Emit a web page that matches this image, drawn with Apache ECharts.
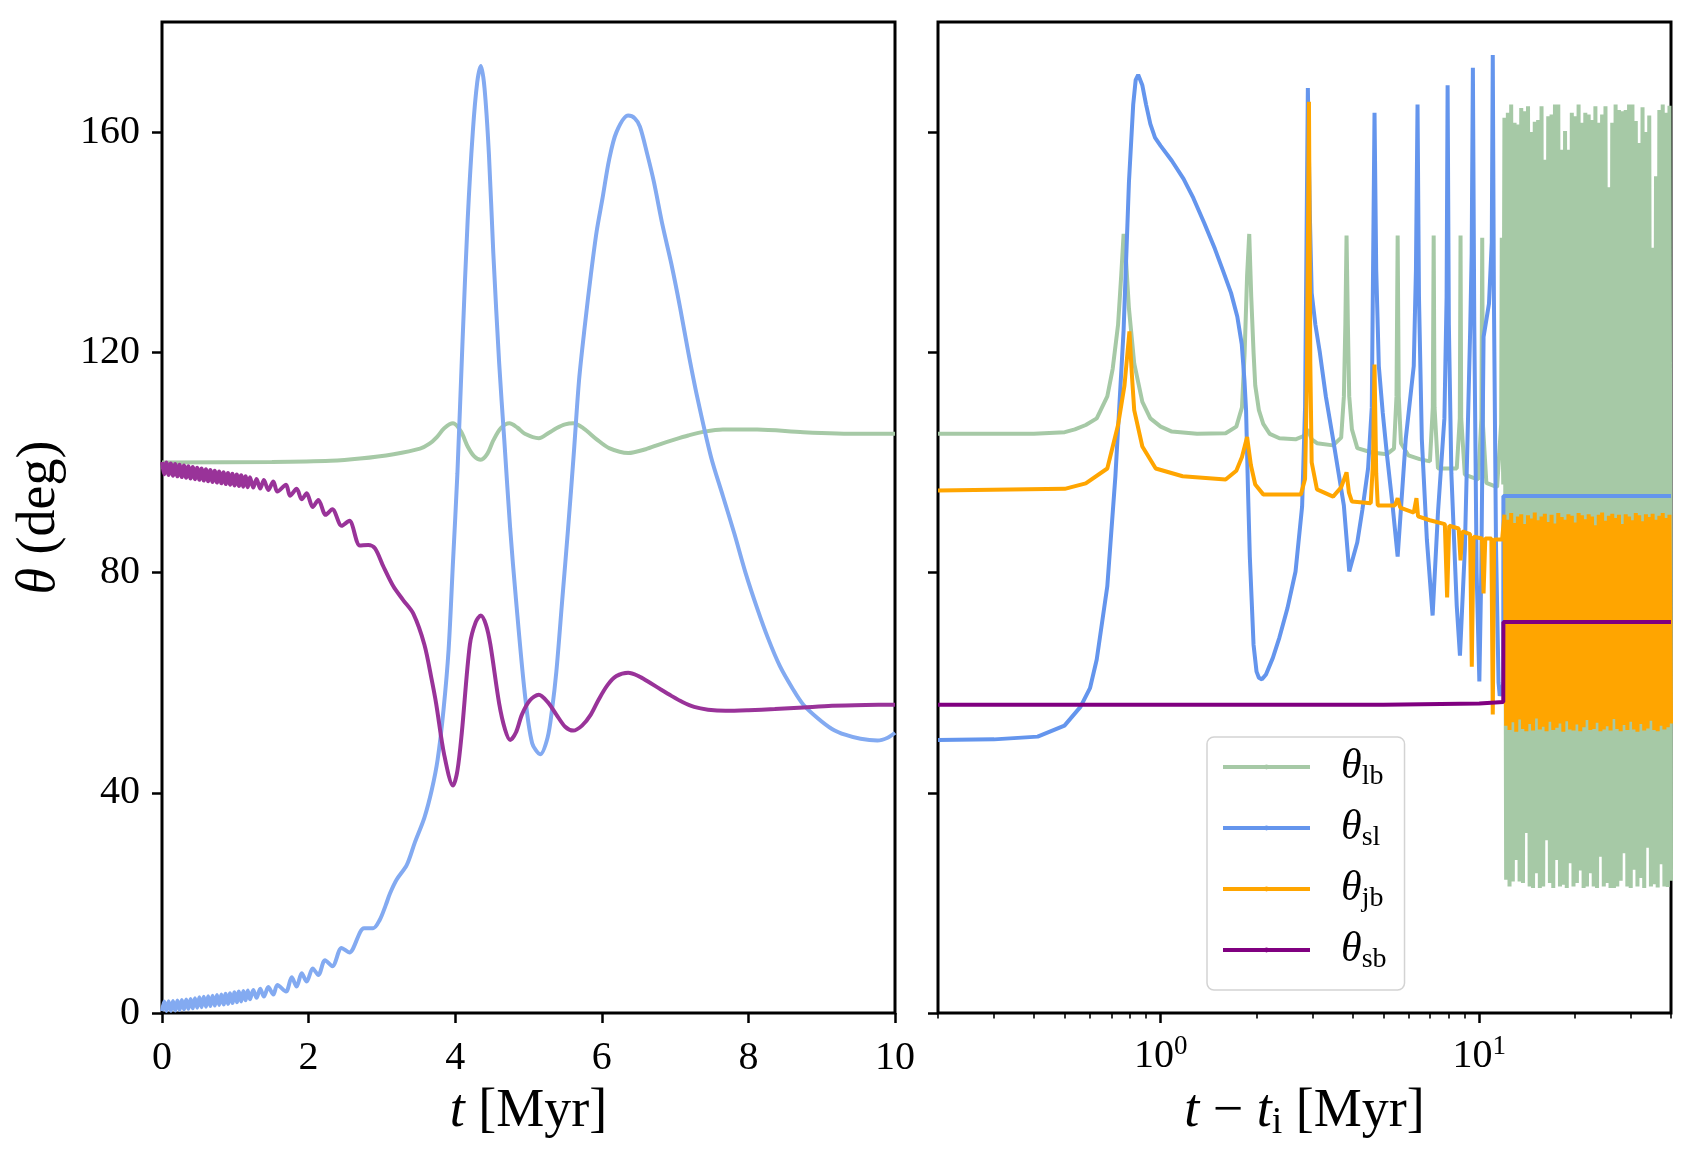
<!DOCTYPE html>
<html>
<head>
<meta charset="utf-8">
<title>theta evolution</title>
<script src="https://cdn.jsdelivr.net/npm/echarts@6/dist/echarts.min.js"></script>
<style>
  html, body { margin: 0; padding: 0; background: #fff; }
  #main { width: 1693px; height: 1151px; }
</style>
</head>
<body>
<div id="main"></div>
<script>
// ---- left panel: t [Myr] vs angle [deg] ----
const lbLeft = [[0,100.0],[1.5,100.1],[2.3,100.3],[2.7,100.7],[3.16,101.5],[3.52,102.5],[3.65,103.4],[3.75,104.6],[3.85,106.2],[3.97,107.1],[4.08,105.6],[4.17,102.9],[4.26,101.1],[4.35,100.5],[4.44,101.6],[4.52,104.0],[4.62,106.2],[4.74,107.1],[4.85,106.3],[4.95,105.2],[5.14,104.4],[5.28,105.4],[5.38,106.2],[5.5,106.9],[5.61,107.1],[5.75,106.2],[5.93,104.2],[6.1,102.6],[6.36,101.7],[6.6,102.4],[6.79,103.3],[7.0,104.2],[7.18,104.9],[7.4,105.6],[7.65,106.0],[8.12,106.0],[8.75,105.5],[9.53,105.2],[10,105.2]];

const slLeft = [[0,0.35],[0.03,2.1],[0.06,0.37],[0.09,2.15],[0.12,0.4],[0.15,2.2],[0.18,0.45],[0.21,2.25],[0.24,0.55],[0.27,2.35],[0.3,0.65],[0.33,2.45],[0.36,0.75],[0.39,2.55],[0.42,0.85],[0.45,2.7],[0.48,0.95],[0.51,2.85],[0.54,1.05],[0.57,2.95],[0.6,1.15],[0.63,3.05],[0.66,1.25],[0.69,3.15],[0.72,1.35],[0.75,3.25],[0.78,1.45],[0.81,3.35],[0.84,1.55],[0.87,3.5],[0.9,1.65],[0.93,3.6],[0.96,1.8],[0.99,3.75],[1.02,1.95],[1.05,3.9],[1.08,2.1],[1.11,4.0],[1.14,2.3],[1.17,4.1],[1.2,2.5],
  [1.245,4.2],[1.29,2.75],[1.34,4.4],[1.39,3.0],[1.45,4.7],[1.519,3.35],[1.574,5.1],[1.692,3.9],[1.77,6.5],[1.837,4.8],[1.906,7.2],[1.974,5.7],[2.056,8.1],[2.133,6.9],[2.224,9.6],[2.324,8.5],[2.45,11.8],[2.556,11.0],[2.756,15.4],[2.88,15.4],[2.97,16.9],[3.05,19.5],[3.11,21.7],[3.2,24.2],[3.34,26.9],[3.45,31.0],[3.58,35.5],[3.68,40.5],[3.76,46],[3.84,55],[3.91,66],[3.97,82],[4.03,98],[4.1,122],[4.17,144],[4.24,160],[4.3,169],[4.35,172],[4.4,168],[4.46,156],[4.52,138],[4.6,118],[4.67,104],[4.75,88],[4.83,75],[4.95,58],[5.05,49],[5.16,47],[5.26,50],[5.32,55],[5.38,62],[5.46,75],[5.54,88],[5.62,102],[5.69,115],[5.77,125],[5.85,134],[5.93,142],[6.01,148],[6.1,155],[6.2,160],[6.36,163],[6.45,162.5],[6.52,161],[6.62,156],[6.71,151],[6.83,143],[6.95,136],[7.07,128],[7.18,120],[7.3,112],[7.49,101],[7.65,94],[7.81,87],[7.96,80],[8.12,73.5],[8.27,68],[8.43,63],[8.6,59],[8.75,56],[8.95,53.5],[9.14,51.6],[9.33,50.5],[9.53,49.8],[9.76,49.5],[9.9,50],[10,50.9]];

const sbLeft = [[0,100.1],[0.03,97.85],[0.06,99.97],[0.09,97.72],[0.12,99.83],[0.15,97.6],[0.18,99.7],[0.21,97.47],[0.24,99.56],[0.27,97.34],[0.3,99.43],[0.33,97.22],[0.36,99.29],[0.39,97.09],[0.42,99.16],[0.45,96.97],[0.48,99.02],[0.51,96.84],[0.54,98.89],[0.57,96.71],[0.6,98.75],[0.63,96.59],[0.66,98.62],[0.69,96.46],[0.72,98.48],[0.75,96.34],[0.78,98.35],[0.81,96.21],[0.84,98.21],[0.87,96.08],[0.9,98.08],[0.93,95.96],[0.96,97.94],[0.99,95.83],[1.02,97.81],[1.05,95.71],[1.08,97.67],[1.11,95.58],[1.14,97.5],[1.17,95.5],[1.2,97.3],
  [1.245,95.45],[1.29,97.0],[1.34,95.25],[1.39,96.8],[1.45,95.0],[1.519,96.55],[1.574,94.7],[1.692,95.95],[1.746,93.95],[1.837,95.2],[1.906,93.3],[1.974,94.4],[2.056,91.9],[2.133,93.2],[2.233,90.5],[2.324,91.5],[2.451,88.5],[2.556,89.4],[2.70,84.9],[2.815,85.0],[2.906,84.4],[3.02,81.1],[3.156,77.5],[3.29,75.0],[3.43,72.5],[3.58,66.9],[3.68,60.5],[3.74,56.2],[3.85,46.9],[3.97,41.3],[4.03,44],[4.09,50.9],[4.2,66.9],[4.28,71],[4.35,72.2],[4.42,70.5],[4.48,66.9],[4.6,56.2],[4.68,51.5],[4.75,49.6],[4.83,51],[4.91,54.2],[5.02,56.8],[5.14,57.8],[5.26,56.5],[5.38,54.2],[5.5,52],[5.61,51.3],[5.73,52.2],[5.85,54.2],[5.96,57],[6.08,59.6],[6.2,61.2],[6.36,61.8],[6.5,61.2],[6.63,60.2],[6.8,58.8],[6.95,57.6],[7.1,56.5],[7.26,55.6],[7.45,55.1],[7.69,54.9],[8.0,55.0],[8.36,55.2],[8.75,55.5],[9.14,55.8],[9.6,55.95],[10,56]];

// ---- right panel: t - t_i [Myr] (log) ----
const lbRight = [[0.2,105.2],[0.4,105.2],[0.5,105.5],[0.538,106.0],[0.582,106.8],[0.63,108],[0.68,112],[0.707,117],[0.735,125],[0.752,134],[0.765,141.5],[0.78,136],[0.795,128],[0.826,118],[0.876,111],[0.928,108],[1.0,106.5],[1.084,105.6],[1.3,105.2],[1.6,105.3],[1.728,106.5],[1.8,110],[1.835,120],[1.868,134],[1.897,141.5],[1.925,130],[1.957,120],[1.981,114],[2.034,109.5],[2.099,107],[2.2,105.2],[2.359,104.4],[2.651,104.2],[2.81,104.8],[2.898,106],[2.98,104.2],[3.095,103.5],[3.478,103.1],[3.687,104.5],[3.76,112],[3.8,125],[3.833,141.2],[3.87,125],[3.908,112],[3.985,106],[4.143,102.6],[4.6,101.8],[5.131,101.5],[5.4,102.5],[5.5,112],[5.546,141.2],[5.59,112],[5.68,103.5],[5.993,101.3],[6.5,100.6],[7.003,100.2],[7.15,110],[7.195,141.2],[7.24,110],[7.422,98.9],[8.502,98.9],[8.69,108],[8.737,141.2],[8.78,108],[9.013,97.8],[9.93,96.9],[10.16,108],[10.22,140.8],[10.27,107],[10.53,96.3],[11.38,95.5],[11.72,107],[11.77,140.8],[11.82,107],[11.9,96]];

const slRight = [[0.2,49.6],[0.3,49.7],[0.411,50.2],[0.499,52.2],[0.56,55.6],[0.6,59],[0.63,64.2],[0.68,77.5],[0.721,97.5],[0.765,124],[0.795,150.8],[0.82,165],[0.835,169.5],[0.85,170.4],[0.876,168.5],[0.9,165],[0.928,161.5],[0.96,159],[1.0,157.5],[1.084,154.8],[1.18,151.5],[1.267,148],[1.37,143.5],[1.48,138.8],[1.57,134.8],[1.663,130.8],[1.74,126.5],[1.797,121.5],[1.832,115],[1.854,109.5],[1.88,95],[1.905,82.9],[1.957,66.9],[2.0,62],[2.034,60.9],[2.08,60.6],[2.141,61.5],[2.25,64.5],[2.359,68.2],[2.5,73.5],[2.651,80.2],[2.78,92],[2.84,110],[2.898,168],[2.94,145],[2.979,130.8],[3.06,125],[3.156,120.2],[3.3,112],[3.478,104.2],[3.62,98],[3.759,92.2],[3.908,80.2],[4.143,85.5],[4.3,91.5],[4.478,98.9],[4.6,110],[4.692,163.5],[4.75,135],[4.84,117.5],[4.98,109],[5.131,101.5],[5.35,92],[5.546,82.9],[5.879,104.2],[6.23,117.5],[6.33,135],[6.403,165],[6.47,130],[6.605,104.2],[6.85,86],[7.14,72.2],[7.422,90.9],[7.775,108],[7.9,130],[7.958,168.5],[8.03,125],[8.177,98],[8.5,74],[8.70,64.9],[9.013,84.2],[9.369,124.2],[9.47,138],[9.553,171.7],[9.65,125],[9.815,80],[10.01,60.2],[10.15,80],[10.32,122.8],[10.73,128.8],[10.95,140],[11.03,174],[11.12,130],[11.29,85],[11.5,60],[11.6,57.6],[11.82,58.9],[11.9,60],[11.91,93.9],[40,93.9]];

const jbRight = [[0.2,94.9],[0.5,95.2],[0.582,96.2],[0.68,98.9],[0.735,106.8],[0.77,114],[0.798,123.8],[0.812,116],[0.826,109.5],[0.876,102.9],[0.965,98.9],[1.172,97.5],[1.599,96.9],[1.728,98.5],[1.8,101],[1.868,104.6],[1.92,99.5],[1.981,96],[2.099,94.2],[2.755,94.2],[2.84,97],[2.878,115],[2.921,165.5],[2.95,118],[2.979,100],[3.095,95.1],[3.478,93.8],[3.687,95.5],[3.833,98.2],[3.9,94.5],[3.985,92.9],[4.566,92.6],[4.64,100],[4.692,117.8],[4.75,98],[4.803,92.2],[5.439,92.2],[5.546,93.5],[5.65,91.8],[6.23,90.9],[6.353,93.5],[6.428,90.2],[7.0,89.5],[7.8,88.8],[7.93,75.5],[8.05,88.5],[8.62,88],[8.737,82.2],[8.85,87.5],[9.36,87],[9.478,62.9],[9.6,86.5],[10.2,86.2],[10.32,76.2],[10.45,86.2],[10.92,86.2],[11.03,54.2],[11.14,86],[11.8,86],[11.95,86]];

const sbRight = [[0.2,56.0],[5,56.0],[10,56.2],[11.9,56.5],[11.91,71.0],[40,71.0]];

// chaotic tail after ~12 Myr: shared time grid, values alternate top / bottom
const chaosT = [12.00,12.15,12.30,12.45,12.60,12.75,12.91,13.07,13.23,13.39,13.55,13.72,13.89,14.06,14.23,14.40,14.58,14.76,14.94,15.12,15.31,15.50,15.69,15.88,16.07,16.27,16.47,16.67,16.87,17.08,17.29,17.50,17.71,17.93,18.15,18.37,18.60,18.83,19.06,19.29,19.53,19.77,20.01,20.26,20.51,20.76,21.01,21.27,21.53,21.79,22.06,22.33,22.60,22.88,23.16,23.44,23.73,24.02,24.31,24.61,24.91,25.22,25.53,25.84,26.16,26.48,26.80,27.13,27.46,27.80,28.14,28.48,28.83,29.18,29.54,29.90,30.27,30.64,31.01,31.39,31.78,32.17,32.56,32.96,33.36,33.77,34.18,34.60,35.02,35.45,35.89,36.33,36.77,37.22,37.68,38.14,38.61,39.08,39.56,40.00];

const chaosLb = [162.6,24.2,163.5,23,165,23.9,161.7,27.8,161.4,23.9,164.4,23.6,163.8,32.7,164.7,23,160,22.7,161.9,25.4,
  162.2,22.7,164.7,23,155,31.4,162.9,23.6,163.2,22.7,165,27.8,165,23,156.8,23.3,160.2,22.7,156.8,27.2,
  163.5,23,162.9,23.6,165,25.9,161.7,22.7,163.5,23,163.2,25.4,162.2,23,164.7,22.7,161.7,28.4,163.2,23,
  164.7,23.6,150,22.7,161.7,22.7,165,23,164,24,163.8,29,164,23,165,22.7,165,26,162,23,
  158,24.5,164.5,22.7,160,30,163,23,139,23.4,152,22.8,164,27,165,23,163.5,22.9,164.8,24];

const chaosJb = [90.5,52.2,89.6,51.4,90.8,52.8,89,51.1,90.2,53.3,90.6,51.6,88.8,51.2,90.4,52.5,89.8,51.3,90.9,53.5,
  89.5,51.5,90.2,52,90.7,51.2,89.2,52.9,90.5,51.4,88.9,51.8,90.8,52.6,90.1,51.1,89.6,53,90.6,51.5,
  90.3,51.3,89.1,52.4,90.8,51.2,90.4,51.9,89.7,53.2,90.6,51.4,90.2,51.6,88.6,52.7,90.5,51.2,90.9,51.5,
  89.4,52.1,90.3,51.3,90.7,53.4,89.9,51.6,90.5,51.2,88.8,52.3,90.6,51.4,90.2,52.9,89.5,51.5,90.8,51.1,
  90.4,52.5,89.3,51.3,90.6,51.7,90.1,53.1,90.7,51.4,89.6,51.2,90.3,52.2,90.8,51.5,89.9,51.9,90.5,52.6];

// ticks
const yTicks = [0, 40, 80, 120, 160];
const xTicksLeft = [0, 2, 4, 6, 8, 10];
const xMajorRight = [1, 10];
const xMajorExp = { 1: '0', 10: '1' };
const xMinorRight = [0.2, 0.3, 0.4, 0.5, 0.6, 0.7, 0.8, 0.9, 2, 3, 4, 5, 6, 7, 8, 9, 20, 30, 40];
const legendNames = ['lb', 'sl', 'jb', 'sb'];

const FONT = "'Liberation Serif', 'Times New Roman', serif";
const chart = echarts.init(document.getElementById('main'));

const tickTxt = { fontFamily: FONT, fontSize: 40, color: '#000' };
const nameRich = {
  it: { fontFamily: FONT, fontStyle: 'italic', fontSize: 54, color: '#000', lineHeight: 60 },
  rm: { fontFamily: FONT, fontSize: 54, color: '#000', lineHeight: 60 },
  sub: { fontFamily: FONT, fontSize: 38, color: '#000', verticalAlign: 'bottom', lineHeight: 38 }
};

function line(name, panel, color, data, smooth) {
  return {
    name: name, type: 'line', xAxisIndex: panel === 0 ? 0 : 1, yAxisIndex: panel,
    data: data, symbol: 'none', showSymbol: false, smooth: smooth,
    lineStyle: { color: color, width: 4 }, itemStyle: { color: color },
    emphasis: { disabled: true }, animation: false
  };
}

const chaosLbPairs = chaosT.map((t, i) => [t, chaosLb[i]]);
const chaosJbPairs = chaosT.map((t, i) => [t, chaosJb[i]]);

const gridBase = { top: 22, width: 733, height: 991, show: true, borderColor: '#000', borderWidth: 3, outerBoundsMode: 'none' };

chart.setOption({
  animation: false,
  textStyle: { fontFamily: FONT },
  grid: [Object.assign({ left: 162 }, gridBase), Object.assign({ left: 938 }, gridBase)],
  xAxis: [
    {
      gridIndex: 0, type: 'value', min: 0, max: 10, interval: 2, position: 'bottom',
      axisLine: { show: false }, splitLine: { show: false },
      axisTick: { show: true, length: 10, customValues: xTicksLeft, lineStyle: { color: '#000', width: 2.5 } },
      axisLabel: Object.assign({ customValues: xTicksLeft, margin: 25 }, tickTxt),
      name: '{it|t}{rm| [Myr]}', nameLocation: 'middle', nameGap: 69,
      nameTextStyle: { rich: nameRich }
    },
    {
      gridIndex: 1, type: 'log', logBase: 10, min: 0.2, max: 40, position: 'bottom',
      axisLine: { show: false }, splitLine: { show: false }, minorTick: { show: false },
      axisTick: { show: true, length: 10, customValues: xMajorRight, lineStyle: { color: '#000', width: 2.5 } },
      axisLabel: {
        customValues: xMajorRight, margin: 20,
        formatter: v => '{b|10}{s|' + xMajorExp[Math.round(v)] + '}',
        rich: {
          b: { fontFamily: FONT, fontSize: 40, color: '#000', lineHeight: 46 },
          s: { fontFamily: FONT, fontSize: 27, color: '#000', verticalAlign: 'top', lineHeight: 27 }
        }
      },
      name: '{it|t}{rm| − }{it|t}{sub|i}{rm| [Myr]}', nameLocation: 'middle', nameGap: 69,
      nameTextStyle: { rich: nameRich }
    },
    {
      gridIndex: 1, type: 'log', logBase: 10, min: 0.2, max: 40, position: 'bottom', offset: 0,
      axisLine: { show: false }, splitLine: { show: false },
      axisTick: { show: true, length: 5.5, customValues: xMinorRight, lineStyle: { color: '#000', width: 1.6 } },
      axisLabel: { show: false }
    }
  ],
  yAxis: [
    {
      gridIndex: 0, type: 'value', min: 0, max: 180,
      axisLine: { show: false }, splitLine: { show: false },
      axisTick: { show: true, length: 10, customValues: yTicks, lineStyle: { color: '#000', width: 2.5 } },
      axisLabel: Object.assign({ customValues: yTicks, margin: 22 }, tickTxt),
      name: '{it|θ}{rm| (deg)}', nameLocation: 'middle', nameGap: 92,
      nameTextStyle: { rich: nameRich }
    },
    {
      gridIndex: 1, type: 'value', min: 0, max: 180,
      axisLine: { show: false }, splitLine: { show: false },
      axisTick: { show: true, length: 10, customValues: yTicks, lineStyle: { color: '#000', width: 2.5 } },
      axisLabel: { show: false }
    }
  ],
  legend: {
    data: legendNames, orient: 'vertical', left: 1207, top: 737,
    itemWidth: 87, itemHeight: 6, itemGap: 16, padding: [9, 18, 16, 14],
    backgroundColor: 'rgba(255,255,255,0.8)', borderColor: '#d3d3d3', borderWidth: 1.5, borderRadius: 7,
    selectedMode: false, lineStyle: { width: 4 },
    formatter: n => '{th|θ}{sub|' + n + '}',
    textStyle: {
      rich: {
        th: { fontFamily: FONT, fontStyle: 'italic', fontSize: 42, color: '#000', lineHeight: 48, padding: [0, 0, 0, 26] },
        sub: { fontFamily: FONT, fontSize: 28, color: '#000', verticalAlign: 'bottom', lineHeight: 28 }
      }
    }
  },
  series: [
    line('lb', 1, '#a6c9a6', lbRight.concat(chaosLbPairs), false),
    line('sl', 1, '#6495ed', slRight, false),
    line('jb', 1, '#ffa500', jbRight.concat(chaosJbPairs), false),
    line('sb', 1, '#800080', sbRight, false),
    line('lbL', 0, '#a6c9a6', lbLeft, 0.3),
    line('slL', 0, '#83aaf1', slLeft, 0.3),
    line('sbL', 0, '#993399', sbLeft, 0.3)
  ]
});
</script>
</body>
</html>
